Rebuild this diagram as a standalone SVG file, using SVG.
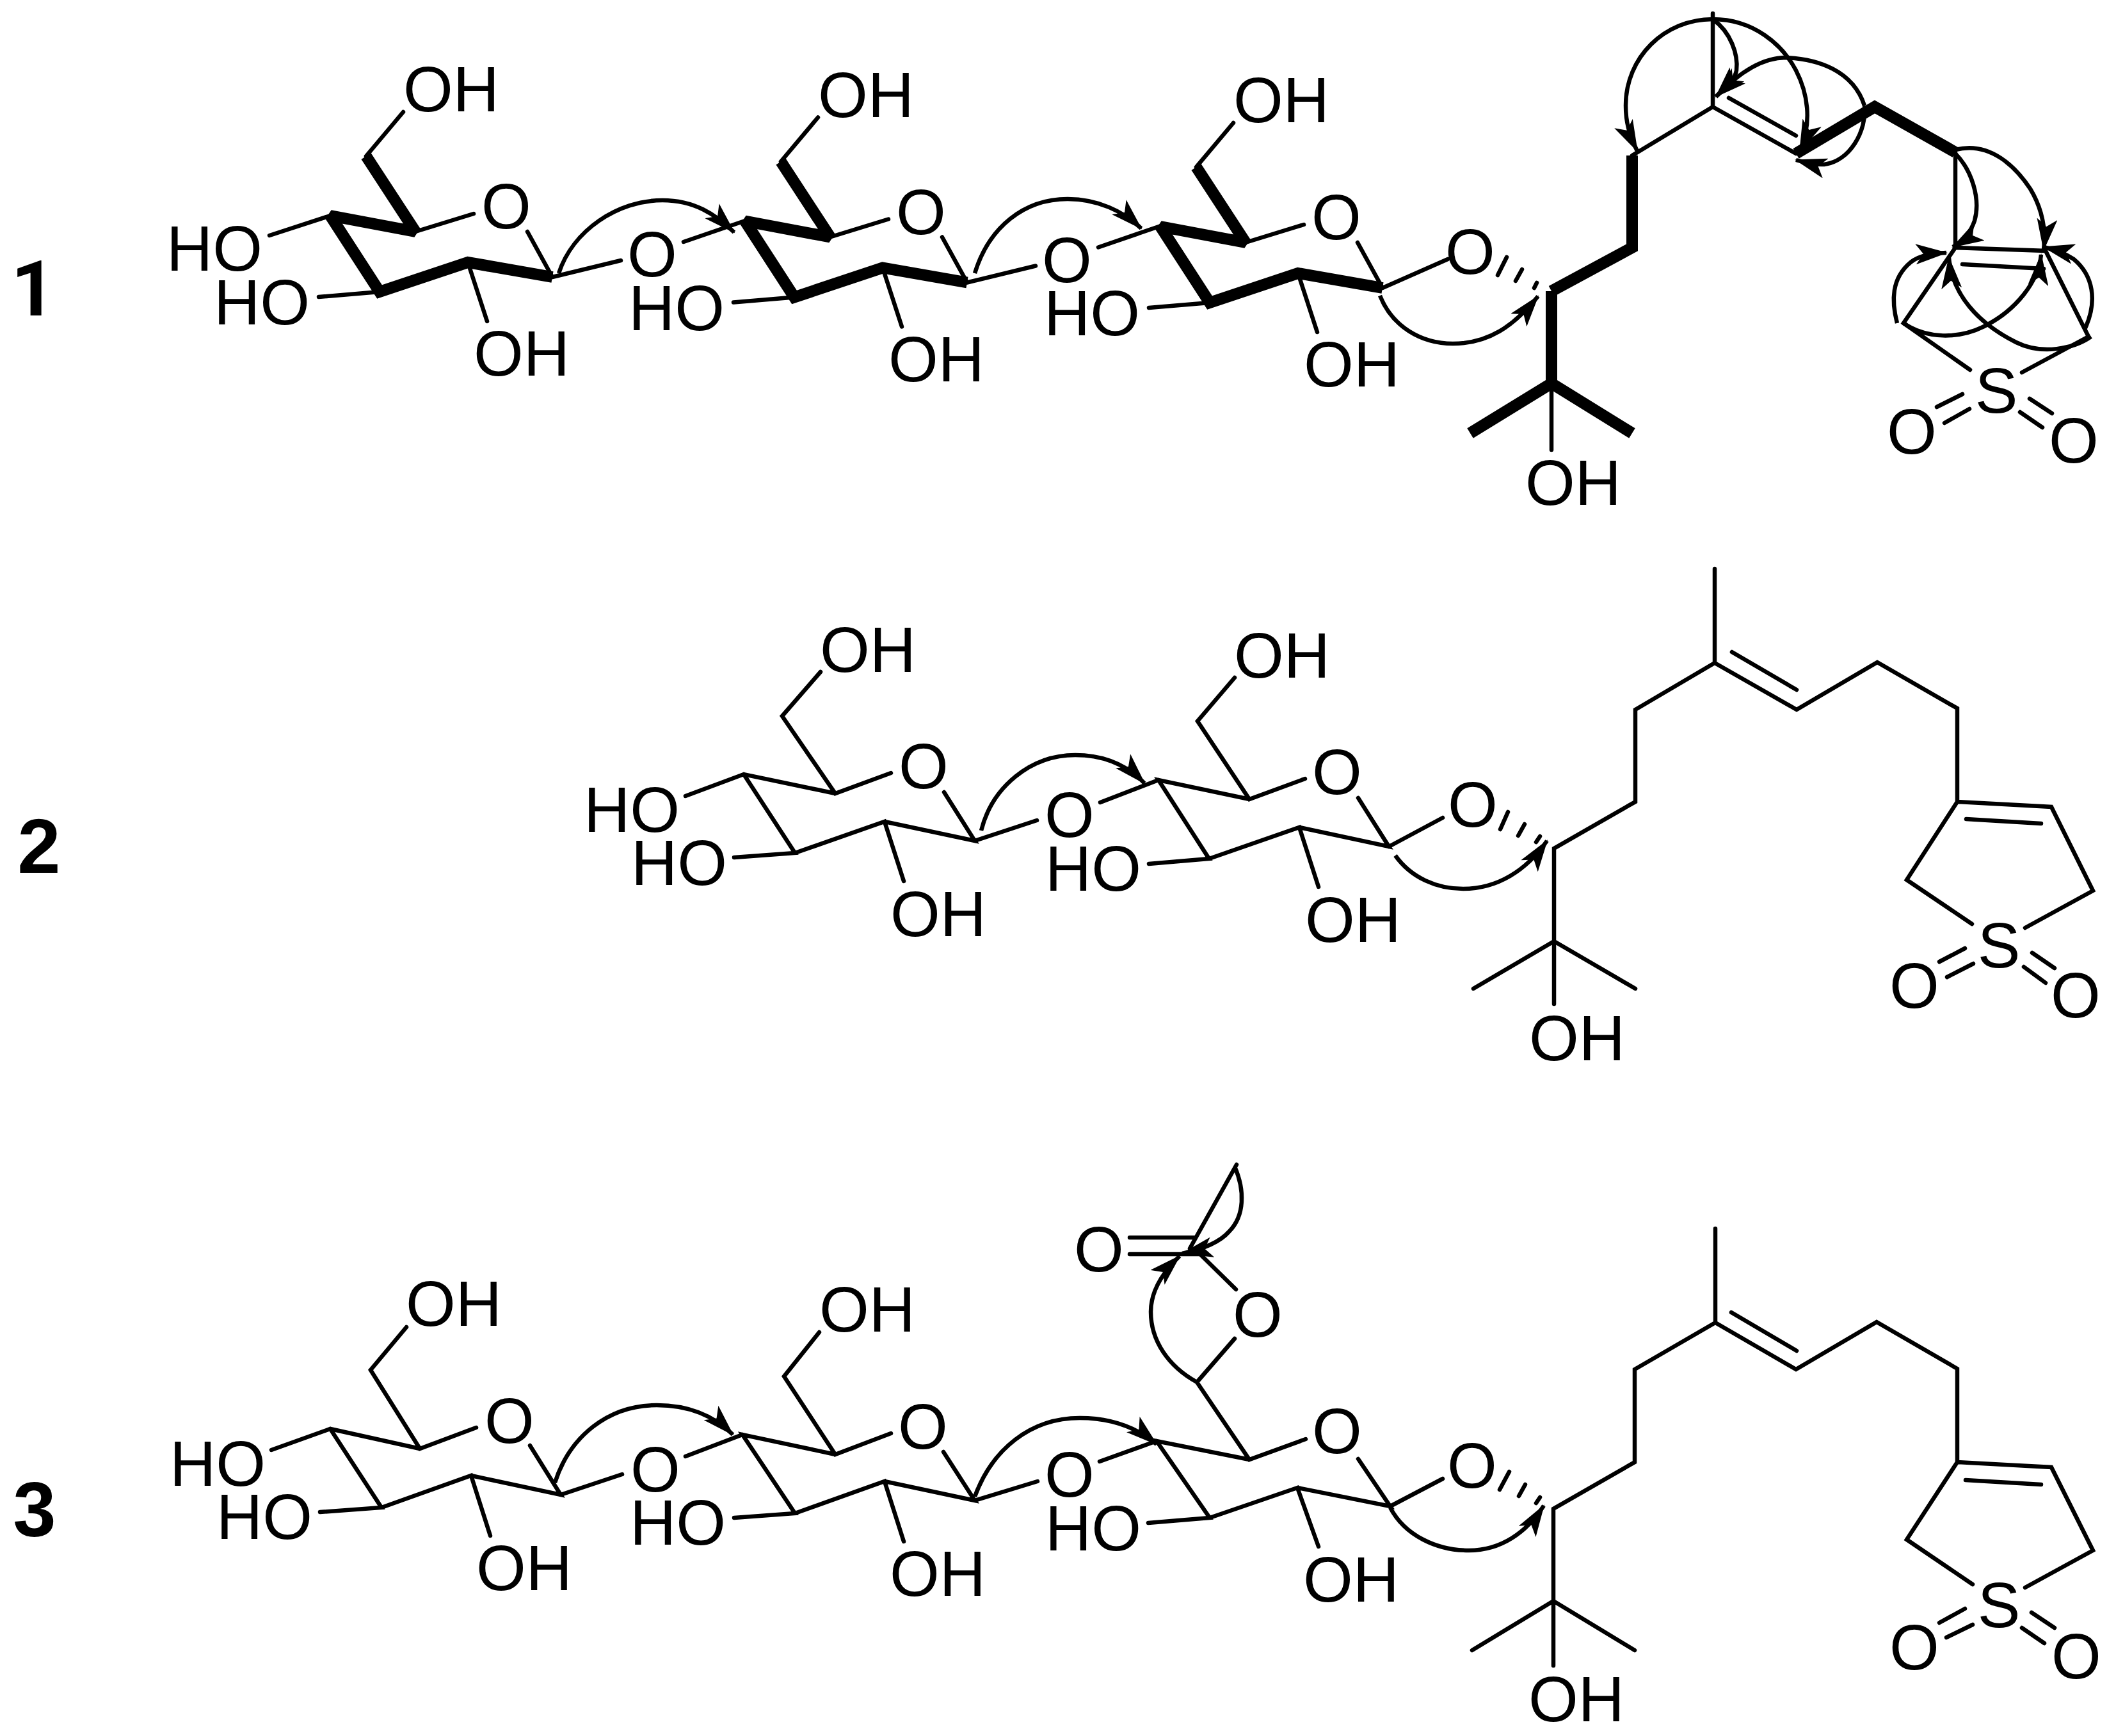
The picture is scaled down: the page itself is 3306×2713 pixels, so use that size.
<svg xmlns="http://www.w3.org/2000/svg" width="3306" height="2713" viewBox="0 0 3306 2713">
<style>
text{font-family:"Liberation Sans",Arial,sans-serif;font-size:100px;fill:#000}
.m{text-anchor:middle}
.n{font-size:121px;font-weight:bold;text-anchor:middle}
.r{font-family:Roboto,"Liberation Sans",sans-serif}
.b{fill:none;stroke:#000;stroke-width:6.5;stroke-linecap:round;stroke-linejoin:miter}
.t{fill:none;stroke:#000;stroke-width:18;stroke-linecap:butt;stroke-linejoin:miter;stroke-miterlimit:1.6}
.a{fill:none;stroke:#000;stroke-width:6.5;marker-end:url(#h)}
.d{fill:none;stroke:#000;stroke-width:6.5;stroke-linecap:round}
</style>
<defs>
<marker id="h" markerUnits="userSpaceOnUse" markerWidth="50" markerHeight="32" refX="48" refY="16" orient="auto" viewBox="0 0 50 32"><path d="M0,0 L50,16 L0,32 L12,16 Z" fill="#000"/></marker>
</defs>
<rect width="3306" height="2713" fill="#fff"/>

<g id="label-1"><text class="n r" x="52" y="493">1</text></g>
<g id="label-2"><text class="n" x="61" y="1364">2</text></g>
<g id="label-3"><text class="n" x="54" y="2401">3</text></g>

<g id="m1-sugar1">
<path class="t" d="M572,244 L649,362 L516,337 L593,456 L731,410 L863,433"/>
<path class="b" d="M630,175 L572,244 M649,362 L740,334 M516,337 L421,368 M593,456 L498,464 M731,410 L761,502 M863,433 L824,362 M863,433 L970,407 M1068,378 L1164,345"/>
<text x="630" y="174">OH</text><text x="260" y="423">HO</text><text x="334" y="507">HO</text><text x="740" y="587">OH</text>
<text class="m" x="791" y="357">O</text><text class="m" x="1019" y="432">O</text>
</g>
<g id="m1-sugar2" transform="translate(648,8.5)">
<path class="t" d="M572,244 L649,362 L516,337 L593,456 L731,410 L863,433"/>
<path class="b" d="M630,175 L572,244 M649,362 L740,334 M593,456 L498,464 M731,410 L761,502 M863,433 L824,362 M863,433 L970,407 M1068,378 L1164,345"/>
<text x="630" y="174">OH</text><text x="334" y="507">HO</text><text x="740" y="587">OH</text>
<text class="m" x="791" y="357">O</text><text class="m" x="1019" y="432">O</text>
</g>
<g id="m1-sugar3" transform="translate(1297,17)">
<path class="t" d="M572,244 L649,362 L516,337 L593,456 L731,410 L863,433"/>
<path class="b" d="M630,175 L572,244 M649,362 L740,334 M593,456 L498,464 M731,410 L761,502 M863,433 L824,362 M863,433 L965,388"/>
<text x="630" y="174">OH</text><text x="334" y="507">HO</text><text x="740" y="587">OH</text>
<text class="m" x="791" y="357">O</text>
</g>
<g id="m1-chain">
<text class="m" x="2297" y="428">O</text>
<path class="d" d="M2354,402 L2340,430 M2378,421 L2368,439 M2401,442 L2397,450"/>
<path class="t" d="M2297,677 L2424,599 L2550,677 M2424,455 L2424,599 M2424,455 L2550,387 L2550,243 M2806,240 L2929,167 L3055,238"/>
<path class="b" d="M2424,599 L2424,703 M2550,243 L2676,167 L2676,21 M2676,167 L2806,240 M2701,153 L2806,212 M3055,238 L3055,387 L3196,392 L3263,526 L3159,582 M3066,413 L3193,420 M3055,387 L2974,505 L3078,578"/>
<path class="b" d="M3026,636 L3066,616 M3038,661 L3077,639 M3171,623 L3206,646 M3156,644 L3191,668"/>
<text x="2383" y="789">OH</text>
<text class="m" x="3119" y="645">S</text><text class="m" x="2987" y="709">O</text><text class="m" x="3240" y="723">O</text>
</g>

<g id="m2-sugar1">
<path class="b" d="M1282,1050 L1222,1119 L1305,1240 L1392,1208 M1305,1240 L1162,1210 L1071,1244 M1162,1210 L1242,1333 L1147,1340 M1242,1333 L1382,1284 L1412,1377 M1382,1284 L1523,1314 L1475,1238 M1523,1314 L1620,1282 M1719,1254 L1810,1219"/>
<text x="1281" y="1050">OH</text><text x="912" y="1300">HO</text><text x="986" y="1383">HO</text><text x="1391" y="1463">OH</text>
<text class="m" x="1443" y="1232">O</text><text class="m" x="1671" y="1308">O</text>
</g>
<g id="m2-sugar2">
<path class="b" d="M1929,1059 L1871,1127 L1952,1249 L2039,1217 M1952,1249 L1810,1219 L1889,1342 L1795,1350 M1889,1342 L2030,1293 L2060,1386 M2030,1293 L2170,1323 L2122,1247 M2170,1323 L2254,1278"/>
<text x="1928" y="1059">OH</text><text x="1633" y="1392">HO</text><text x="2039" y="1472">OH</text>
<text class="m" x="2089" y="1241">O</text>
</g>
<g id="m2-chain">
<text class="m" x="2301" y="1292">O</text>
<path class="d" d="M2356,1269 L2344,1296 M2382,1288 L2372,1306 M2406,1307 L2400,1316"/>
<path class="b" d="M2302,1545 L2428,1471 L2555,1545 M2428,1569 L2428,1326 L2555,1253 L2555,1109 L2679,1036 L2679,889 M2679,1036 L2807,1109 L2933,1035 L3058,1107 L3058,1253 L3205,1261 L3270,1392 L3164,1450 M2706,1019 L2807,1078 M3072,1280 L3189,1287 M3058,1253 L2979,1375 L3081,1444"/>
<path class="b" d="M3030,1503 L3070,1482 M3042,1527 L3083,1506 M3175,1489 L3210,1513 M3162,1511 L3196,1536"/>
<text x="2389" y="1657">OH</text>
<text class="m" x="3123" y="1512">S</text><text class="m" x="2991" y="1575">O</text><text class="m" x="3243" y="1590">O</text>
</g>

<g id="m3-sugar1">
<path class="b" d="M635,2074 L579,2141 L656,2264 L744,2231 M656,2264 L516,2233 L424,2266 M516,2233 L596,2356 L500,2363 M596,2356 L736,2306 L766,2400 M736,2306 L876,2336 L828,2259 M876,2336 L972,2304 M1071,2276 L1160,2242"/>
<text x="634" y="2072">OH</text><text x="265" y="2322">HO</text><text x="338" y="2405">HO</text><text x="744" y="2485">OH</text>
<text class="m" x="796" y="2255">O</text><text class="m" x="1024" y="2331">O</text>
</g>
<g id="m3-sugar2">
<path class="b" d="M1280,2082 L1225,2151 L1305,2273 L1392,2240 M1305,2273 L1160,2242 L1242,2365 L1147,2372 M1242,2365 L1382,2315 L1412,2409 M1382,2315 L1523,2345 L1474,2269 M1523,2345 L1621,2315 M1718,2284 L1807,2252"/>
<text x="1280" y="2081">OH</text><text x="984" y="2414">HO</text><text x="1390" y="2494">OH</text>
<text class="m" x="1442" y="2264">O</text><text class="m" x="1671" y="2339">O</text>
</g>
<g id="m3-sugar3">
<path class="b" d="M1929,2092 L1870,2160 L1952,2281 L2040,2249 M1952,2281 L1807,2252 L1890,2372 L1794,2380 M1890,2372 L2027,2325 L2060,2417 M2027,2325 L2172,2354 L2122,2280 M2172,2354 L2254,2311 M1931,2015 L1876,1961 M1765,1934 L1867,1934 M1765,1960 L1876,1960 M1859,1951 L1932,1820"/>
<text x="2036" y="2503">OH</text><text x="1633" y="2423">HO</text>
<text class="m" x="2089" y="2271">O</text><text class="m" x="1965" y="2089">O</text><text class="m" x="1717" y="1987">O</text>
</g>
<g id="m3-chain">
<text class="m" x="2300" y="2325">O</text>
<path class="d" d="M2358,2300 L2343,2328 M2383,2320 L2373,2338 M2406,2340 L2400,2349"/>
<path class="b" d="M2300,2579 L2427,2502 L2554,2579 M2427,2603 L2427,2358 L2554,2285 L2554,2140 L2680,2067 L2680,1920 M2680,2067 L2806,2140 L2932,2066 L3058,2139 L3058,2285 L3205,2293 L3270,2423 L3164,2481 M2705,2051 L2807,2111 M3071,2313 L3189,2320 M3058,2285 L2979,2406 L3082,2476"/>
<path class="b" d="M3030,2536 L3070,2514 M3041,2559 L3082,2539 M3174,2520 L3210,2544 M3159,2544 L3194,2568"/>
<text x="2388" y="2690">OH</text>
<text class="m" x="3123" y="2543">S</text><text class="m" x="2991" y="2609">O</text><text class="m" x="3244" y="2623">O</text>
</g>

<g id="connectors">
<path class="a" d="M873,427 C895,360 965,313 1035,313 C1085,313 1118,335 1147,363"/>
<path class="a" d="M1523,427 C1545,355 1600,311 1668,311 C1715,311 1755,330 1783,357"/>
<path class="a" d="M2156,462 C2175,510 2220,537 2270,537 C2325,537 2365,510 2403,463"/>
<path class="a" d="M2676,30 C2600,30 2540,90 2540,165 C2540,190 2545,210 2558,236"/>
<path class="a" d="M2676,30 C2704,50 2716,85 2713,110 C2711,122 2704,130 2681,151"/>
<path class="a" d="M2676,30 C2740,30 2785,70 2806,110 C2824,145 2832,190 2812,236"/>
<path class="a" d="M2913,165 C2895,110 2840,92 2790,90 C2755,90 2720,110 2681,151"/>
<path class="a" d="M2913,165 C2917,205 2890,252 2850,257 C2835,258 2820,254 2806,250"/>
<path class="a" d="M3055,234 C3110,220 3150,262 3172,295 C3190,325 3197,355 3193,390"/>
<path class="a" d="M3055,240 C3080,265 3095,310 3085,345 C3080,360 3070,375 3051,386"/>
<path class="a" d="M2964,505 C2955,470 2955,435 2985,410 C3000,398 3020,396 3041,395"/>
<path class="a" d="M2974,505 C3010,530 3060,530 3100,510 C3150,485 3185,440 3189,398"/>
<path class="a" d="M3267,526 C3240,545 3190,555 3150,535 C3090,505 3050,460 3045,403"/>
<path class="a" d="M3257,515 C3278,470 3270,430 3240,405 C3225,395 3210,390 3193,386"/>
<path class="a" d="M1533,1298 C1550,1230 1610,1180 1680,1180 C1725,1180 1760,1195 1788,1224"/>
<path class="a" d="M2180,1337 C2205,1372 2245,1389 2286,1389 C2340,1389 2385,1360 2417,1314"/>
<path class="a" d="M867,2317 C890,2245 950,2196 1026,2196 C1075,2196 1115,2212 1145,2242"/>
<path class="a" d="M1523,2339 C1550,2265 1610,2216 1687,2216 C1735,2216 1775,2230 1807,2257"/>
<path class="a" d="M2172,2356 C2195,2400 2245,2423 2295,2423 C2345,2423 2385,2395 2412,2353"/>
<path class="a" d="M1929,1823 C1945,1860 1945,1900 1920,1925 C1905,1942 1880,1952 1847,1959"/>
<path class="a" d="M1870,2160 C1825,2135 1798,2095 1798,2050 C1798,2020 1815,1990 1843,1963"/>
</g>
</svg>
